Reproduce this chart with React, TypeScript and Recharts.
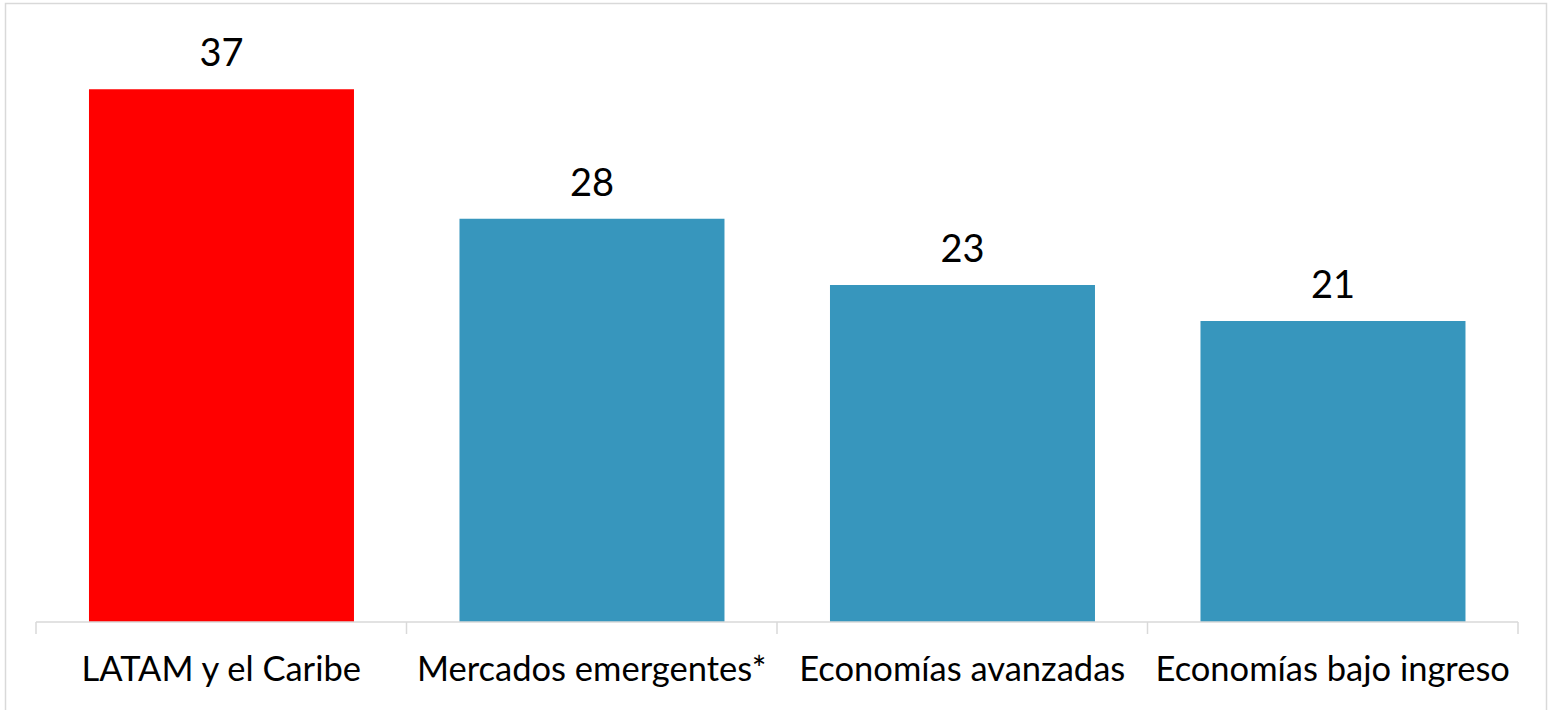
import React from "react";
import { BarChart, Bar, XAxis, YAxis, Cell, LabelList } from "recharts";

const categories = [
  "LATAM y el Caribe",
  "Mercados emergentes*",
  "Economías avanzadas",
  "Economías bajo ingreso",
];
const values = [37, 28, 23.4, 20.9];

const data = categories.map((name, i) => ({ name, value: values[i] }));

const RED = "#ff0000";
const BLUE = "#3796bd";
const GRID = "#d9d9d9";
const FONT = "Lato, 'Open Sans', sans-serif";

function CategoryTick(props: any) {
  const { x, y, payload, index, visibleTicksCount } = props;
  const half = payload?.offset ?? 0;
  const isLast = index === visibleTicksCount - 1;
  return (
    <g>
      <line x1={x - half} x2={x - half} y1={y} y2={y + 12} stroke={GRID} strokeWidth={1.5} />
      {isLast && (
        <line x1={x + half} x2={x + half} y1={y} y2={y + 12} stroke={GRID} strokeWidth={1.5} />
      )}
      <text x={x} y={y + 59} textAnchor="middle" fill="#000" fontSize={34.5} fontFamily={FONT}>
        {payload.value}
      </text>
    </g>
  );
}

export default function App() {
  return (
    <div style={{ position: "absolute", left: 0, top: 0, width: 1549, height: 710, background: "#fff" }}>
      <svg width={1549} height={710} style={{ position: "absolute", left: 0, top: 0 }}>
        <rect x={5.5} y={3.5} width={1541} height={720} fill="#fff" stroke={GRID} strokeWidth={1.5} />
      </svg>
      <div style={{ position: "absolute", left: 0, top: 0 }}>
        <BarChart
          width={1549}
          height={710}
          data={data}
          margin={{ top: 46, right: 31, bottom: 0, left: 36 }}
          barCategoryGap="14.3%"
        >
          <YAxis hide domain={[0, 40]} />
          <XAxis
            dataKey="name"
            height={88}
            axisLine={{ stroke: GRID, strokeWidth: 1.5 }}
            tickLine={false}
            tickSize={0}
            tickMargin={0}
            interval={0}
            tick={<CategoryTick />}
          />
          <Bar dataKey="value" isAnimationActive={false}>
            {data.map((d, i) => (
              <Cell key={d.name} fill={i === 0 ? RED : BLUE} />
            ))}
            <LabelList
              dataKey="value"
              position="top"
              offset={23}
              formatter={(v: number) => Math.round(v).toString()}
              style={{ fill: "#000", fontSize: 38, fontFamily: FONT }}
            />
          </Bar>
        </BarChart>
      </div>
    </div>
  );
}
